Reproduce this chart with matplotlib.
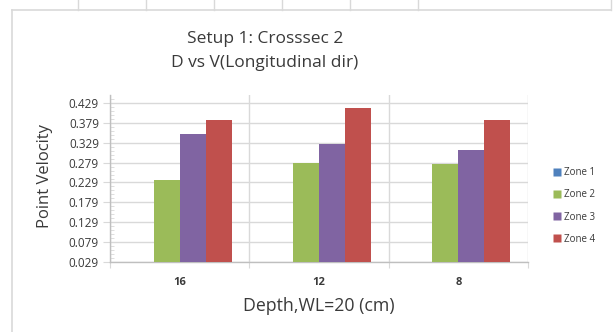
import numpy as np
import matplotlib
matplotlib.use("Agg")
import matplotlib.pyplot as plt
from matplotlib.lines import Line2D
from matplotlib.ticker import FixedLocator

# data
depths = ["16", "12", "8"]
zones = ["Zone 1", "Zone 2", "Zone 3", "Zone 4"]
zone1 = [0.0, 0.0, 0.0]
zone2 = [0.235, 0.279, 0.275]
zone3 = [0.351, 0.326, 0.311]
zone4 = [0.387, 0.416, 0.387]
colors = ["#4F81BD", "#9BBB59", "#8064A2", "#C0504D"]

ymin, ymax = 0.029, 0.449
yticks = [0.029, 0.079, 0.129, 0.179, 0.229, 0.279, 0.329, 0.379, 0.429]

plt.rcParams['font.family'] = ['Open Sans', 'DejaVu Sans']
W, H = 616, 332
fig = plt.figure(figsize=(W / 100, H / 100), dpi=100)
fig.patch.set_facecolor("white")
txt_c = "#3a3a3a"

# spreadsheet cell lines behind the chart
grid_c = "#d9d9d9"
fig.add_artist(Line2D([12 / W, 611 / W], [1 - 10 / H, 1 - 10 / H], color=grid_c, lw=1.2))
fig.add_artist(Line2D([12 / W, 12 / W], [0, 1 - 10 / H], color=grid_c, lw=1.2))
for cx in [78, 146, 214, 282, 350, 418, 611]:
    fig.add_artist(Line2D([cx / W, cx / W], [1 - 10 / H, 1], color=grid_c, lw=1.0))

ax = fig.add_axes([110 / W, 70 / H, 418 / W, 167 / H])
x = np.arange(len(depths))
bw = 0.187
series = [zone1, zone2, zone3, zone4]
for i, (vals, c) in enumerate(zip(series, colors)):
    ax.bar(x + (i - 1.5) * bw, np.array(vals) - ymin, bottom=ymin, width=bw,
           color=c, edgecolor="none", zorder=3, align="center")

ax.set_xlim(-0.5, len(depths) - 0.5)
ax.set_ylim(ymin, ymax)
ax.yaxis.set_major_locator(FixedLocator(yticks))
ax.yaxis.set_minor_locator(FixedLocator(np.arange(ymin, ymax, 0.01)))
ax.set_yticklabels([f"{t:.3f}" for t in yticks])
ax.xaxis.set_major_locator(FixedLocator(np.arange(-0.5, len(depths), 1.0)))
ax.xaxis.set_minor_locator(FixedLocator(x))
ax.set_xticklabels([], minor=False)
ax.set_xticklabels(depths, minor=True, fontsize=8, fontweight="bold", color=txt_c)
ax.tick_params(axis="x", which="minor", length=0, pad=11)
ax.tick_params(axis="x", which="major", length=4, color=grid_c)
ax.tick_params(axis="y", which="major", length=5, color=grid_c, labelsize=8.5,
               labelcolor=txt_c, pad=3)
ax.tick_params(axis="y", which="minor", length=3, direction="in", color=grid_c)

ax.grid(True, which="major", color=grid_c, lw=1.0, zorder=0)
for s in ["top", "right"]:
    ax.spines[s].set_visible(False)
for s in ["left", "bottom"]:
    ax.spines[s].set_color("#bfbfbf")
    ax.spines[s].set_linewidth(1.0)

fig.text(45 / W, 1 - 176 / H, "Point Velocity", rotation=90, ha="center", va="center",
         fontsize=12, color=txt_c)
fig.text(319 / W, 1 - 306 / H, "Depth,WL=20 (cm)", ha="center", va="center",
         fontsize=12.8, color=txt_c)

fig.text(265 / W, 1 - 39 / H, "Setup 1: Crosssec 2", ha="center", va="center",
         fontsize=12.5, color=txt_c)
fig.text(265 / W, 1 - 63 / H, "D vs V(Longitudinal dir)", ha="center", va="center",
         fontsize=12.5, color=txt_c)

handles = [Line2D([], [], marker="s", ls="none", markersize=6, markerfacecolor=c,
                  markeredgecolor="none") for c in colors]
fig.legend(handles, zones, loc="center left", bbox_to_anchor=(549 / W, 1 - 206 / H),
           frameon=False, fontsize=7, labelspacing=1.15, handlelength=0.7,
           handletextpad=0.3, labelcolor=txt_c, borderpad=0)

fig.savefig("out.png", dpi=100)
